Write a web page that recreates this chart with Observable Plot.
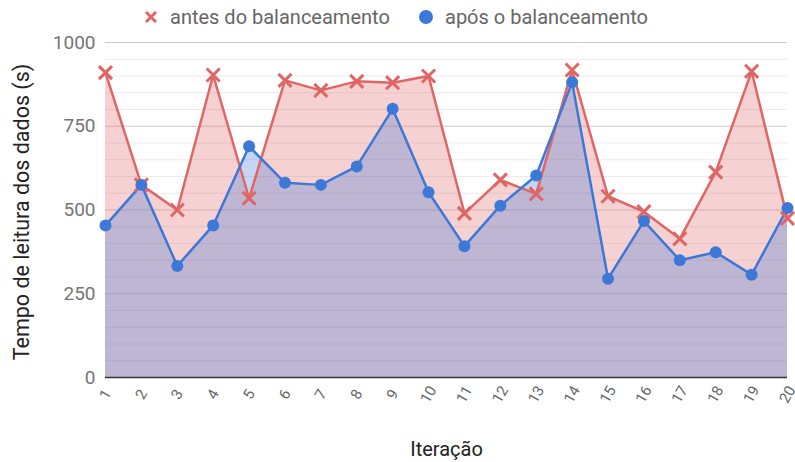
<!DOCTYPE html>
<html>
<head>
<meta charset="utf-8">
<script src="https://cdn.jsdelivr.net/npm/d3@7"></script>
<script src="https://cdn.jsdelivr.net/npm/@observablehq/plot@0.6"></script>
<style>
  html, body { margin: 0; padding: 0; background: #fff; overflow: hidden; }
  #wrap { position: relative; width: 795px; height: 462px; font-family: Roboto, sans-serif; }
  #chart svg { overflow: visible; }
  #legend { position: absolute; top: 4px; left: 0; width: 795px; height: 26px; font-size: 20px; color: #666; }
  .item { position: absolute; top: 0; display: flex; align-items: center; height: 26px; }
  .item svg { margin-right: 11px; }
</style>
</head>
<body>
<div id="wrap">
  <div id="chart"></div>
  <div id="legend">
    <div class="item" style="left:143px"><svg width="16" height="16" viewBox="-8 -8 16 16"><path d="M-5,-5L5,5M5,-5L-5,5" stroke="#e06666" stroke-width="3"/></svg><span>antes do balanceamento</span></div>
    <div class="item" style="left:418px"><svg width="16" height="16" viewBox="-8 -8 16 16"><circle r="7" fill="#3c78d8"/></svg><span>após o balanceamento</span></div>
  </div>
</div>
<script>
const iteracoes = [1,2,3,4,5,6,7,8,9,10,11,12,13,14,15,16,17,18,19,20];
const antes = [910,575,500,903,535,887,857,884,880,900,490,590,548,918,541,495,414,613,914,475];
const apos  = [454,575,333,454,690,581,575,630,802,553,392,513,603,881,295,467,350,374,307,506];
const yTicksMajor = [0,250,500,750,1000];
const yTicksMinor = [50,100,150,200,300,350,400,450,550,600,650,700,800,850,900,950];
const serieAntes = "antes do balanceamento";
const serieApos = "após o balanceamento";

const dataAntes = iteracoes.map((it, i) => ({it, v: antes[i], s: serieAntes}));
const dataApos = iteracoes.map((it, i) => ({it, v: apos[i], s: serieApos}));

const RED = "#e06666", BLUE = "#3c78d8";

const chart = Plot.plot({
  width: 795,
  height: 462,
  marginLeft: 105,
  marginRight: 8,
  marginTop: 42,
  marginBottom: 85,
  style: {fontFamily: "Roboto, sans-serif", background: "white", overflow: "visible"},
  x: {type: "linear", domain: [1, 20], axis: null},
  y: {domain: [0, 1000], axis: null},
  marks: [
    Plot.ruleY(yTicksMinor, {stroke: "#ebebeb", strokeWidth: 1}),
    Plot.ruleY(yTicksMajor.filter(d => d > 0), {stroke: "#cccccc", strokeWidth: 1}),
    Plot.areaY(dataAntes, {x: "it", y: "v", fill: RED, fillOpacity: 0.3}),
    Plot.areaY(dataApos, {x: "it", y: "v", fill: BLUE, fillOpacity: 0.3}),
    Plot.ruleY([0], {stroke: "#333", strokeWidth: 1.5}),
    Plot.lineY(dataAntes, {x: "it", y: "v", stroke: RED, strokeWidth: 2.5}),
    Plot.lineY(dataApos, {x: "it", y: "v", stroke: BLUE, strokeWidth: 2.5}),
    Plot.dot(dataAntes, {x: "it", y: "v", symbol: "times", r: 6, stroke: RED, strokeWidth: 3}),
    Plot.dot(dataApos, {x: "it", y: "v", r: 6, fill: BLUE}),
    Plot.text(yTicksMajor, {y: d => d, text: d => String(d), frameAnchor: "left", dx: -10, textAnchor: "end", fontSize: 19, fill: "#757575"}),
    Plot.text(iteracoes, {x: d => d, text: d => String(d), frameAnchor: "bottom", dy: 17, rotate: -60, textAnchor: "middle", lineAnchor: "middle", fontSize: 15, fill: "#666"}),
    Plot.text(["Tempo de leitura dos dados (s)"], {frameAnchor: "left", dx: -83, dy: 2, rotate: -90, textAnchor: "middle", lineAnchor: "middle", fontSize: 21.5, fill: "#222"}),
    Plot.text(["Iteração"], {frameAnchor: "bottom", dy: 72, textAnchor: "middle", lineAnchor: "middle", fontSize: 20, fill: "#222"})
  ]
});
document.getElementById("chart").appendChild(chart);
</script>
</body>
</html>
